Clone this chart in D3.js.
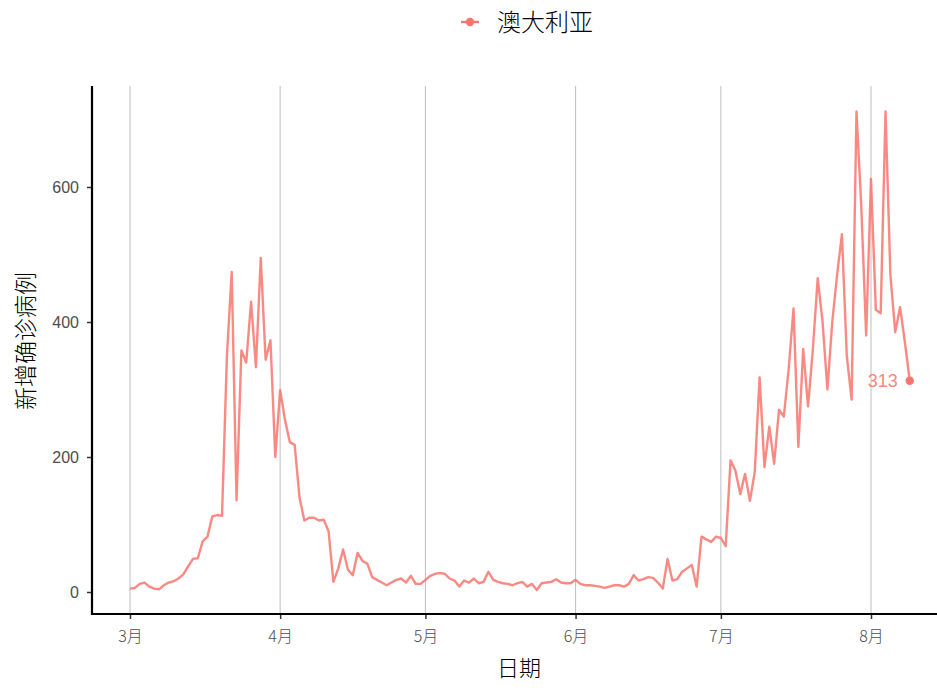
<!DOCTYPE html>
<html><head><meta charset="utf-8">
<script src="https://cdn.jsdelivr.net/npm/d3@7"></script>
<style>
html,body{margin:0;padding:0;background:#fff;}
text{font-family:"Noto Sans CJK SC","Noto Sans",sans-serif;font-weight:300;}
</style></head>
<body>
<svg id="chart" width="937" height="688"></svg>
<script>
// ---- data ----
const seriesName = "澳大利亚";
const startDate = "2020-03-01";
const values = [
  5,6,12,14,8,5,4,10,14,16,
  20,26,38,49,50,75,82,112,114,113,
  348,474,136,358,340,430,333,495,344,373,
  200,299,255,222,218,140,106,110,110,106,
  107,90,15,35,63,33,25,58,46,42,
  22,18,14,10,14,18,20,14,24,12,
  12,18,24,27,28,27,20,17,8,17,
  14,20,13,15,30,18,15,13,12,10,
  13,15,8,12,3,13,14,15,19,14,
  13,13,18,12,10,10,9,8,6,8,
  10,10,8,12,25,17,19,22,21,14,
  5,49,17,19,30,35,40,8,82,78,
  74,82,80,68,195,180,145,175,135,178,
  318,185,245,190,270,260,330,420,215,360,
  275,360,465,400,300,400,470,530,350,285,
  712,570,380,612,418,413,712,470,385,422,
  370,313
];
const yTicks = [0,200,400,600];
const xTickMonths = ["2020-03-01","2020-04-01","2020-05-01","2020-06-01","2020-07-01","2020-08-01"];
const xTitle = "日期";
const yTitle = "新增确诊病例";

const parse = d3.timeParse("%Y-%m-%d");
const t0 = parse(startDate);
const data = values.map((v,i)=>({date:d3.timeDay.offset(t0,i), value:v}));
const monthTicks = xTickMonths.map(parse);

const color = "#F8766D";
const svg = d3.select("#chart");

const panel = {left:92, right:937, top:86, bottom:614};
const x = d3.scaleTime().domain([parse("2020-03-01"), parse("2020-08-01")]).range([130, 871]);
const y = d3.scaleLinear().domain([0,600]).range([592,187]);

// grid
svg.append("g").selectAll("line").data(monthTicks).join("line")
  .attr("x1",d=>x(d)).attr("x2",d=>x(d))
  .attr("y1",panel.top).attr("y2",panel.bottom)
  .attr("stroke","#c4c4c4").attr("stroke-width",1.1);

// line
const line = d3.line().x(d=>x(d.date)).y(d=>y(d.value));
svg.append("path").datum(data).attr("d",line)
  .attr("fill","none").attr("stroke",color).attr("stroke-opacity",0.85)
  .attr("stroke-width",2.4).attr("stroke-linejoin","round");

// last point + label
const last = data[data.length-1];
svg.append("circle").attr("cx",x(last.date)).attr("cy",y(last.value)).attr("r",4.2).attr("fill",color);
svg.append("text").attr("x",x(last.date)-12).attr("y",y(last.value)).attr("dy","0.35em")
  .attr("text-anchor","end").attr("fill",color).attr("fill-opacity",0.9).attr("font-size",18)
  .style("font-family","'Liberation Sans',Arial,sans-serif").style("font-weight",400)
  .text(last.value);

// axes
const yAxis = d3.axisLeft(y).tickValues(yTicks).tickSize(5).tickPadding(8);
const gy = svg.append("g").attr("transform",`translate(${panel.left},0)`).call(yAxis);
gy.select(".domain").remove();
gy.selectAll(".tick line").attr("stroke","#333").attr("stroke-width",1.5);
gy.selectAll(".tick text").attr("fill","#4d4d4d").attr("font-size",16)
  .style("font-family","'Liberation Sans',Arial,sans-serif").style("font-weight",400);

const xAxis = d3.axisBottom(x).tickValues(monthTicks).tickSize(5).tickPadding(12)
  .tickFormat(d=>(d.getMonth()+1)+"月");
const gx = svg.append("g").attr("transform",`translate(0,${panel.bottom})`).call(xAxis);
gx.select(".domain").remove();
gx.selectAll(".tick line").attr("stroke","#333").attr("stroke-width",1.5);
gx.selectAll(".tick text").attr("fill","#4d4d4d").attr("font-size",16);

svg.append("line").attr("x1",panel.left).attr("x2",panel.left).attr("y1",panel.top).attr("y2",panel.bottom+1)
  .attr("stroke","#000").attr("stroke-width",2.2);
svg.append("line").attr("x1",panel.left-1).attr("x2",panel.right).attr("y1",panel.bottom).attr("y2",panel.bottom)
  .attr("stroke","#000").attr("stroke-width",2.2);

// titles
svg.append("text").attr("x",519).attr("y",668).attr("dy","0.35em").attr("text-anchor","middle")
  .attr("font-size",22).attr("fill","#000").text(xTitle);
svg.append("text").attr("transform",`translate(26,${341}) rotate(-90)`).attr("dy","0.35em").attr("text-anchor","middle")
  .attr("font-size",23).attr("fill","#000").text(yTitle);

// legend
const lg = svg.append("g").attr("transform","translate(470,22)");
lg.append("line").attr("x1",-9).attr("x2",9).attr("y1",0).attr("y2",0).attr("stroke",color).attr("stroke-width",2.4);
lg.append("circle").attr("r",4.2).attr("fill",color);
lg.append("text").attr("x",27).attr("y",0).attr("dy","0.36em").attr("font-size",24).attr("fill","#000").text(seriesName);
</script>
</body></html>
